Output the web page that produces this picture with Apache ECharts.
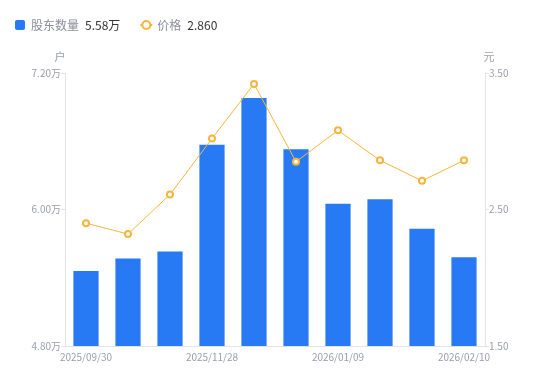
<!DOCTYPE html>
<html><head><meta charset="utf-8">
<script src="https://cdn.jsdelivr.net/npm/echarts@6/dist/echarts.min.js"></script>
<style>html,body{margin:0;padding:0;background:#fff}#c{width:550px;height:381px}</style>
</head><body><div id="c"></div>
<script>
const categories = ['2025/09/30','2025/10/20','2025/10/31','2025/11/28','2025/12/10','2025/12/31','2026/01/09','2026/01/20','2026/01/31','2026/02/10'];
const holders = [54600, 55700, 56300, 65700, 69800, 65300, 60500, 60900, 58300, 55800];
const prices = [2.40, 2.32, 2.61, 3.02, 3.42, 2.85, 3.08, 2.86, 2.71, 2.860];
const leftTicks = [48000, 60000, 72000];
const rightTicks = [1.5, 2.5, 3.5];

const chart = echarts.init(document.getElementById('c'));
const fmtWan = v => (v / 10000).toFixed(2) + '万';
const lastHolder = holders[holders.length - 1];
const lastPrice = prices[prices.length - 1];
const labelColor = '#9a9eab';
chart.setOption({
  animation: false,
  textStyle: { fontFamily: '"Noto Sans CJK SC", "Noto Sans", sans-serif' },
  legend: {
    left: 10, top: 14, itemWidth: 12, itemHeight: 10, itemGap: 19, symbolKeepAspect: true,
    data: [{ name: '股东数量', icon: 'path://M2,0H8A2,2 0 0 1 10,2V8A2,2 0 0 1 8,10H2A2,2 0 0 1 0,8V2A2,2 0 0 1 2,0Z' }, { name: '价格' }],
    formatter: function (name) {
      if (name === '股东数量') return '{n|' + name + '}{v|' + fmtWan(lastHolder) + '}';
      return '{n|' + name + '}{v|' + lastPrice.toFixed(3) + '}';
    },
    textStyle: {
      rich: {
        n: { color: '#8a8e99', fontSize: 12, padding: [0, 6, 0, 0] },
        v: { color: '#333', fontSize: 12 }
      }
    }
  },
  grid: { left: 65, right: 65, top: 73, bottom: 35 },
  xAxis: {
    type: 'category', data: categories,
    axisLine: { lineStyle: { color: '#e4e4e4' } },
    axisTick: { show: false },
    axisLabel: { interval: 2, color: labelColor, fontSize: 10, margin: 6 }
  },
  yAxis: [{
    type: 'value', name: '户', min: leftTicks[0], max: leftTicks[2], interval: leftTicks[1] - leftTicks[0],
    nameTextStyle: { color: labelColor, fontSize: 11, padding: [0, 10, 0, 0] }, nameGap: 11,
    axisLine: { show: true, lineStyle: { color: '#e4e4e4' } },
    axisTick: { show: true, length: 4, lineStyle: { color: '#e4e4e4' } },
    splitLine: { show: false },
    axisLabel: { color: labelColor, fontSize: 10, margin: 4, formatter: fmtWan }
  }, {
    type: 'value', name: '元', min: rightTicks[0], max: rightTicks[2], interval: rightTicks[1] - rightTicks[0],
    nameTextStyle: { color: labelColor, fontSize: 11, padding: [0, 0, 0, 8] }, nameGap: 11,
    axisLine: { show: true, lineStyle: { color: '#e4e4e4' } },
    axisTick: { show: true, length: 4, lineStyle: { color: '#e4e4e4' } },
    splitLine: { show: false },
    axisLabel: { color: labelColor, fontSize: 10, margin: 4, formatter: v => v.toFixed(2) }
  }],
  series: [{
    name: '股东数量', type: 'bar', data: holders, barWidth: '60%', yAxisIndex: 0,
    itemStyle: { color: '#2879f4' }
  }, {
    name: '价格', type: 'line', data: prices, yAxisIndex: 1,
    symbol: 'emptyCircle', symbolSize: 6,
    lineStyle: { color: '#f6b53c', width: 1 },
    itemStyle: { color: '#f6b53c', borderWidth: 2 }
  }]
});
</script></body></html>
